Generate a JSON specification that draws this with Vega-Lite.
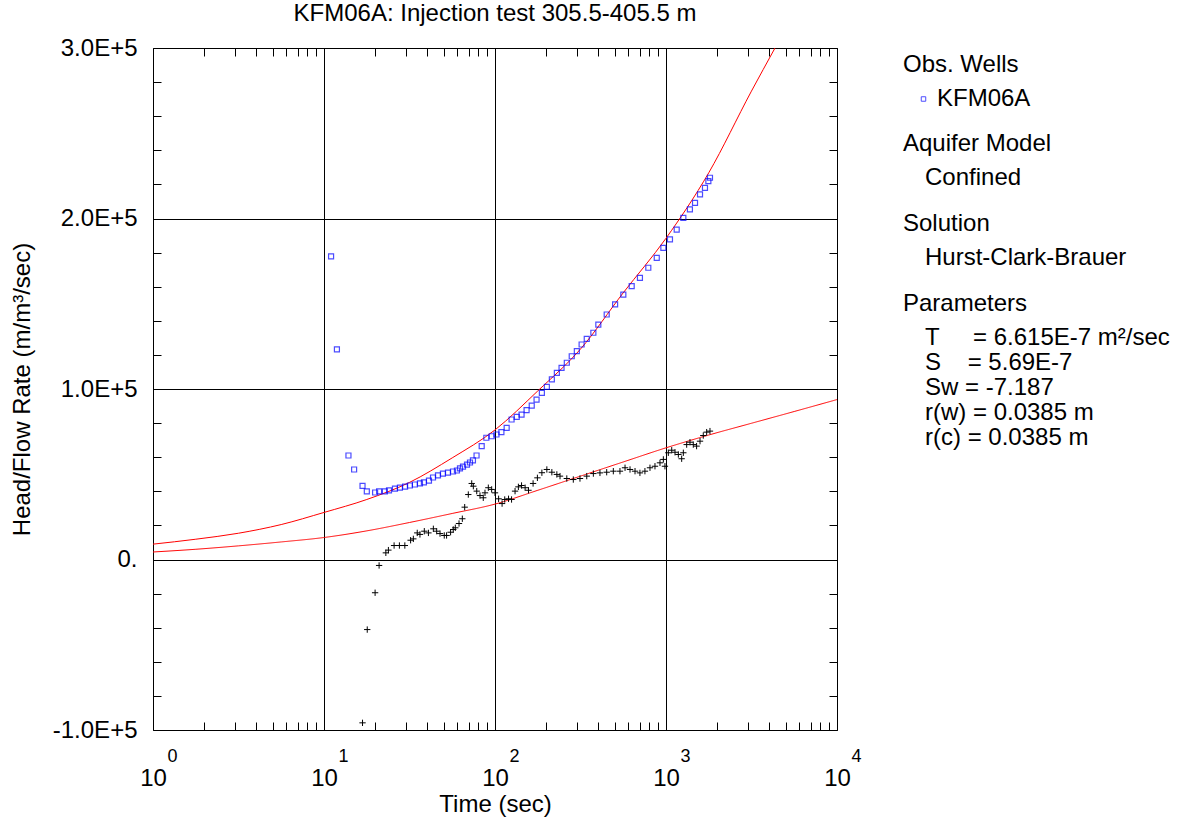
{
  "$schema": "https://vega.github.io/schema/vega-lite/v6.json",
  "autosize": {"type": "none"},
  "padding": {"left": 153, "top": 48, "right": 352, "bottom": 89},
  "width": 684,
  "height": 682,
  "background": "#ffffff",
  "title": {"text": "KFM06A: Injection test 305.5-405.5 m", "fontSize": 24, "fontWeight": "normal", "font": "Liberation Sans", "color": "#000000", "anchor": "middle", "frame": "group", "baseline": "alphabetic", "offset": -9},
  "datasets": {
    "upper": [
      {"t": 1, "v": 9000}, {"t": 1.78, "v": 11900}, {"t": 3.16, "v": 15400}, {"t": 5.62, "v": 20500},
      {"t": 10, "v": 27600}, {"t": 17.8, "v": 35200}, {"t": 31.6, "v": 45200}, {"t": 56.2, "v": 59600},
      {"t": 100, "v": 76000}, {"t": 178, "v": 98900}, {"t": 316, "v": 123400}, {"t": 562, "v": 156400},
      {"t": 1000, "v": 188400}, {"t": 1778, "v": 226800}, {"t": 3160, "v": 274700}, {"t": 4340, "v": 300000}
    ],
    "lower": [
      {"t": 1, "v": 4400}, {"t": 1.78, "v": 6000}, {"t": 3.16, "v": 8000}, {"t": 5.62, "v": 10300},
      {"t": 10, "v": 12900}, {"t": 17.8, "v": 16800}, {"t": 31.6, "v": 21700}, {"t": 56.2, "v": 27000},
      {"t": 100, "v": 32500}, {"t": 178, "v": 40600}, {"t": 316, "v": 48900}, {"t": 562, "v": 57200},
      {"t": 1000, "v": 65500}, {"t": 1778, "v": 73000}, {"t": 3160, "v": 79900}, {"t": 5620, "v": 86800},
      {"t": 10000, "v": 93800}
    ],
    "obs": [
      {"t": 11.0, "v": 177800}, {"t": 11.9, "v": 123200}, {"t": 13.9, "v": 61000}, {"t": 15.0, "v": 52800},
      {"t": 16.8, "v": 43200}, {"t": 17.8, "v": 39900}, {"t": 19.9, "v": 39300}, {"t": 21.0, "v": 39900},
      {"t": 22.7, "v": 39900}, {"t": 24.0, "v": 40500}, {"t": 26.0, "v": 41600}, {"t": 27.8, "v": 42200},
      {"t": 29.8, "v": 42800}, {"t": 31.8, "v": 43400}, {"t": 34.0, "v": 44000}, {"t": 36.4, "v": 44600},
      {"t": 38.4, "v": 45200}, {"t": 41.1, "v": 46300}, {"t": 43.4, "v": 48100}, {"t": 46.4, "v": 49300},
      {"t": 49.6, "v": 50400}, {"t": 53.1, "v": 51000}, {"t": 56.8, "v": 51600}, {"t": 59.9, "v": 52200},
      {"t": 62.4, "v": 53400}, {"t": 65.0, "v": 54500}, {"t": 68.6, "v": 55700}, {"t": 71.4, "v": 56900},
      {"t": 74.3, "v": 58100}, {"t": 78, "v": 61000}, {"t": 83.6, "v": 66500}, {"t": 89, "v": 71400},
      {"t": 95.6, "v": 72300}, {"t": 102, "v": 73300}, {"t": 109, "v": 74700}, {"t": 117, "v": 77200},
      {"t": 125, "v": 82100}, {"t": 134, "v": 83700}, {"t": 143, "v": 85000}, {"t": 153, "v": 87600},
      {"t": 164, "v": 90300}, {"t": 175, "v": 93800}, {"t": 188, "v": 97700}, {"t": 201, "v": 101300},
      {"t": 215, "v": 105600}, {"t": 230, "v": 109500}, {"t": 245, "v": 112400}, {"t": 263, "v": 115400},
      {"t": 281, "v": 119200}, {"t": 301, "v": 122200}, {"t": 321, "v": 126100}, {"t": 344, "v": 129400},
      {"t": 376, "v": 133000}, {"t": 402, "v": 137800}, {"t": 450, "v": 143700}, {"t": 504, "v": 149600},
      {"t": 563, "v": 155400}, {"t": 630, "v": 160300}, {"t": 704, "v": 165200}, {"t": 788, "v": 171100},
      {"t": 883, "v": 176900}, {"t": 965, "v": 182800}, {"t": 1055, "v": 187700}, {"t": 1155, "v": 193500},
      {"t": 1263, "v": 200400}, {"t": 1380, "v": 205300}, {"t": 1478, "v": 209200}, {"t": 1581, "v": 214100},
      {"t": 1690, "v": 218000}, {"t": 1769, "v": 221900}, {"t": 1808, "v": 223900}
    ],
    "deriv": [
      {"t": 16.8, "v": -95800}, {"t": 17.9, "v": -41100}, {"t": 19.9, "v": -19500}, {"t": 21.0, "v": -3500},
      {"t": 23.0, "v": 3900}, {"t": 23.8, "v": 5500}, {"t": 25.7, "v": 8200}, {"t": 27.6, "v": 8200},
      {"t": 29.7, "v": 8200}, {"t": 32.1, "v": 11300}, {"t": 33.3, "v": 12100}, {"t": 35.1, "v": 15600},
      {"t": 36.4, "v": 14700}, {"t": 38.6, "v": 16600}, {"t": 40.8, "v": 15600}, {"t": 43.6, "v": 18000},
      {"t": 45.6, "v": 16600}, {"t": 47.7, "v": 15200}, {"t": 50.5, "v": 14100}, {"t": 52.1, "v": 14100},
      {"t": 55.0, "v": 16000}, {"t": 57.0, "v": 17600}, {"t": 58.6, "v": 18600}, {"t": 61.6, "v": 21100},
      {"t": 64.4, "v": 23900}, {"t": 66.5, "v": 30700}, {"t": 69.8, "v": 38100}, {"t": 73.1, "v": 44600},
      {"t": 74.7, "v": 43000}, {"t": 78.2, "v": 40100}, {"t": 81.7, "v": 37500}, {"t": 85.4, "v": 36200},
      {"t": 87.4, "v": 39100}, {"t": 91.4, "v": 42100}, {"t": 95.6, "v": 41100}, {"t": 100, "v": 39100},
      {"t": 105, "v": 35600}, {"t": 110, "v": 32800}, {"t": 114, "v": 35200}, {"t": 120, "v": 35600},
      {"t": 125, "v": 35200}, {"t": 131, "v": 40100}, {"t": 137, "v": 42600}, {"t": 143, "v": 43400},
      {"t": 150, "v": 42100}, {"t": 157, "v": 40600}, {"t": 167, "v": 44600}, {"t": 177, "v": 47900},
      {"t": 188, "v": 50900}, {"t": 201, "v": 52800}, {"t": 215, "v": 51200}, {"t": 230, "v": 49900},
      {"t": 240, "v": 48900}, {"t": 263, "v": 47500}, {"t": 287, "v": 46900}, {"t": 314, "v": 47500},
      {"t": 344, "v": 48900}, {"t": 376, "v": 50400}, {"t": 411, "v": 50800}, {"t": 450, "v": 51200},
      {"t": 492, "v": 51800}, {"t": 538, "v": 51800}, {"t": 576, "v": 53800}, {"t": 616, "v": 52800},
      {"t": 659, "v": 51800}, {"t": 704, "v": 50800}, {"t": 753, "v": 51800}, {"t": 806, "v": 53800},
      {"t": 862, "v": 54700}, {"t": 922, "v": 56700}, {"t": 965, "v": 58700}, {"t": 986, "v": 54700},
      {"t": 1032, "v": 62600}, {"t": 1080, "v": 64100}, {"t": 1129, "v": 62900}, {"t": 1181, "v": 61600},
      {"t": 1235, "v": 59100}, {"t": 1263, "v": 62600}, {"t": 1321, "v": 67400}, {"t": 1381, "v": 68800},
      {"t": 1444, "v": 67400}, {"t": 1510, "v": 66500}, {"t": 1581, "v": 69400}, {"t": 1652, "v": 72700},
      {"t": 1729, "v": 74700}, {"t": 1808, "v": 75300}
    ]
  },
  "layer": [
    {
      "data": {"name": "upper"},
      "mark": {"type": "line", "color": "#ff0000", "strokeWidth": 1, "interpolate": "monotone", "clip": true},
      "encoding": {
        "x": {"field": "t", "type": "quantitative",
              "scale": {"type": "log", "domain": [1, 10000], "nice": false},
              "axis": {"orient": "bottom", "values": [1, 10, 100, 1000, 10000], "labelExpr": "'10'", "grid": true, "ticks": false, "labelPadding": 36, "title": "Time (sec)", "titlePadding": 2}},
        "y": {"field": "v", "type": "quantitative",
              "scale": {"domain": [-100000, 300000], "nice": false, "zero": false},
              "axis": {"orient": "left", "values": [-100000, 0, 100000, 200000, 300000], "labelExpr": "datum.value == 0 ? '0.' : (datum.value < 0 ? '-' : '') + format(abs(datum.value) / 100000, '.1f') + 'E+5'", "grid": true, "ticks": false, "labelPadding": 16, "title": "Head/Flow Rate (m/m³/sec)", "titlePadding": 18}}
      }
    },
    {
      "data": {"name": "lower"},
      "mark": {"type": "line", "color": "#ff0000", "strokeWidth": 1, "interpolate": "monotone", "clip": true},
      "encoding": {
        "x": {"field": "t", "type": "quantitative",
              "axis": {"orient": "top", "values": [2,3,4,5,6,7,8,9,20,30,40,50,60,70,80,90,200,300,400,500,600,700,800,900,2000,3000,4000,5000,6000,7000,8000,9000], "labels": false, "grid": false, "ticks": true, "tickSize": -8, "title": null}},
        "y": {"field": "v", "type": "quantitative",
              "axis": {"orient": "right", "values": [-80000,-60000,-40000,-20000,20000,40000,60000,80000,120000,140000,160000,180000,220000,240000,260000,280000], "labels": false, "grid": false, "ticks": true, "tickSize": -8, "title": null}},
        "strokeDash": {"datum": "T\u00a0\u00a0\u00a0\u00a0\u00a0= 6.615E-7 m²/sec", "type": "nominal",
              "scale": {"domain": ["T\u00a0\u00a0\u00a0\u00a0\u00a0= 6.615E-7 m²/sec", "S\u00a0\u00a0\u00a0\u00a0= 5.69E-7", "Sw = -7.187", "r(w) = 0.0385 m", "r(c) = 0.0385 m"], "range": [[1, 0], [1, 0], [1, 0], [1, 0], [1, 0]]},
              "legend": {"title": "Parameters", "orient": "none", "legendX": 750, "legendY": 244, "symbolOpacity": 0, "symbolStrokeWidth": 0, "symbolSize": 0, "symbolOffset": 0, "labelOffset": -2}}
      }
    },
    {
      "data": {"name": "obs"},
      "mark": {"type": "point", "shape": "square", "filled": false, "strokeWidth": 1.2, "clip": true},
      "encoding": {
        "x": {"field": "t", "type": "quantitative",
              "axis": {"orient": "bottom", "values": [2,3,4,5,6,7,8,9,20,30,40,50,60,70,80,90,200,300,400,500,600,700,800,900,2000,3000,4000,5000,6000,7000,8000,9000], "labels": false, "grid": false, "ticks": true, "tickSize": -8, "title": null}},
        "y": {"field": "v", "type": "quantitative",
              "axis": {"orient": "left", "values": [-80000,-60000,-40000,-20000,20000,40000,60000,80000,120000,140000,160000,180000,220000,240000,260000,280000], "labels": false, "grid": false, "ticks": true, "tickSize": -8, "title": null}},
        "color": {"datum": "KFM06A", "type": "nominal",
              "scale": {"domain": ["KFM06A"], "range": ["#0000ff"]},
              "legend": {"title": "Obs. Wells", "orient": "none", "legendX": 750, "legendY": 5, "symbolType": "square", "symbolSize": 20, "symbolStrokeWidth": 1, "symbolOffset": 8.5, "labelOffset": 1.5}},
        "size": {"datum": "Hurst-Clark-Brauer", "type": "nominal",
              "scale": {"domain": ["Hurst-Clark-Brauer"], "range": [25, 25]},
              "legend": {"title": "Solution", "orient": "none", "legendX": 750, "legendY": 164, "symbolOpacity": 0, "symbolStrokeWidth": 0, "symbolStrokeColor": "transparent", "symbolFillColor": "transparent", "symbolOffset": 0, "labelOffset": -2}}
      }
    },
    {
      "data": {"name": "deriv"},
      "mark": {"type": "point", "shape": "M-1,0H1M0,-1V1", "filled": false, "size": 40, "strokeWidth": 1, "color": "#000000", "clip": true},
      "encoding": {
        "x": {"field": "t", "type": "quantitative",
              "axis": {"orient": "bottom", "values": [1, 10, 100, 1000, 10000], "labelExpr": "'' + round(log(datum.value) / LN10)", "labelFontSize": 18, "labelPadding": 17, "labelOffset": 19, "grid": false, "ticks": false, "title": null}},
        "y": {"field": "v", "type": "quantitative", "axis": null},
        "opacity": {"datum": "Confined", "type": "ordinal",
              "scale": {"domain": ["Confined"], "range": [1, 1]},
              "legend": {"title": "Aquifer Model", "orient": "none", "legendX": 750, "legendY": 84, "symbolOpacity": 0, "symbolStrokeWidth": 0, "symbolSize": 0, "symbolOffset": 0, "labelOffset": -2}}
      }
    }
  ],
  "resolve": {"axis": {"x": "independent", "y": "independent"}},
  "config": {
    "font": "Liberation Sans",
    "view": {"stroke": "#000000", "strokeWidth": 1},
    "axis": {"labelFont": "Liberation Sans", "labelFontSize": 24, "labelColor": "#000000", "titleFont": "Liberation Sans", "titleFontSize": 24, "titleFontWeight": "normal", "titleColor": "#000000", "gridColor": "#000000", "gridOpacity": 1, "gridWidth": 1, "tickColor": "#000000", "tickWidth": 1, "domain": false, "labelFlush": false, "labelOverlap": false, "labelBound": false},
    "legend": {"titleFont": "Liberation Sans", "titleFontSize": 24, "titleFontWeight": "normal", "titleColor": "#000000", "labelFont": "Liberation Sans", "labelFontSize": 24, "labelColor": "#000000", "padding": 0, "titlePadding": 10, "rowPadding": 1, "labelLimit": 0, "titleLimit": 0}
  }
}
